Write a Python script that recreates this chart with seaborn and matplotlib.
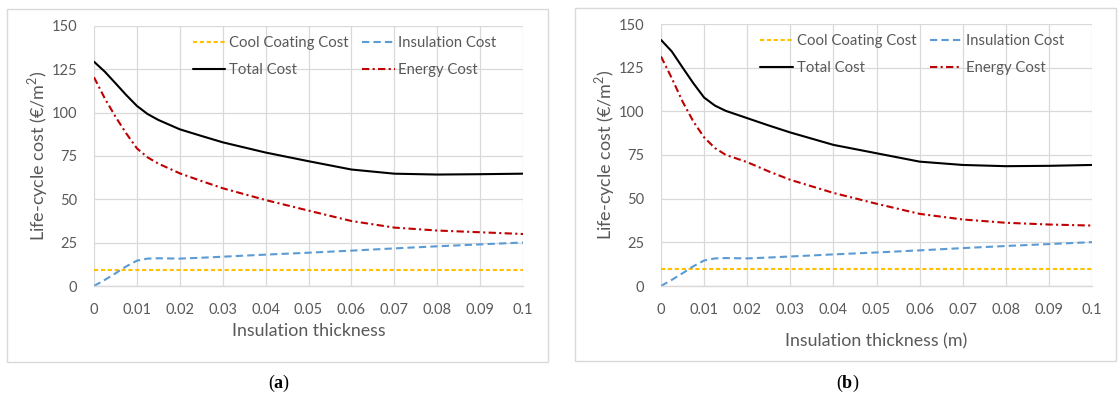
import matplotlib
matplotlib.use("Agg")
import matplotlib.pyplot as plt
import seaborn as sns
import pandas as pd
from matplotlib.patches import Rectangle

# ---------------- data ----------------
thickness = [0, 0.0025, 0.005, 0.0075, 0.01, 0.0125, 0.015, 0.02, 0.025, 0.03,
             0.04, 0.05, 0.06, 0.07, 0.08, 0.09, 0.1]
coating_cost = [9.5, 9.5, 9.5, 9.5, 9.5, 9.5, 9.5, 9.5, 9.5, 9.5,
                9.5, 9.5, 9.5, 9.5, 9.5, 9.5, 9.5]
insulation_cost = [0, 3.5, 7.3, 11.3, 14.6, 15.8, 16.0, 15.8, 16.3, 16.9,
                   18.1, 19.2, 20.4, 21.7, 22.9, 24.0, 25.1]
energy_a = [120.4, 108.3, 97.7, 88.1, 79.4, 74.2, 70.6, 65.0, 60.6, 56.4,
            49.6, 43.5, 37.5, 33.7, 32.0, 31.0, 30.0]
total_a = [129.4, 123.7, 117.0, 110.2, 103.9, 99.2, 95.8, 90.4, 86.6, 82.9,
           77.0, 72.0, 67.2, 64.8, 64.3, 64.5, 64.8]
energy_b = [131.4, 119.0, 105.6, 94.2, 85.1, 79.0, 75.1, 70.9, 65.6, 60.8,
            53.3, 47.1, 41.3, 38.1, 36.2, 35.2, 34.6]
total_b = [140.9, 134.3, 125.1, 116.1, 107.9, 103.3, 100.3, 96.1, 91.9, 87.9,
           80.8, 76.0, 71.2, 69.3, 68.6, 68.8, 69.3]

x_ticks = [0, 0.01, 0.02, 0.03, 0.04, 0.05, 0.06, 0.07, 0.08, 0.09, 0.1]
x_tick_labels = ["0", "0.01", "0.02", "0.03", "0.04", "0.05", "0.06", "0.07", "0.08", "0.09", "0.1"]
y_ticks = [0, 25, 50, 75, 100, 125, 150]
ylabel = "Life-cycle cost (€/m$^2$)"
xlabels = ["Insulation thickness", "Insulation thickness (m)"]
panel_labels = [r"($\mathbf{a}$)", r"($\mathbf{b}$)"]

# ---------------- style ----------------
sns.set_style("white")
plt.rcParams["font.family"] = ["Lato", "DejaVu Sans"]
plt.rcParams["mathtext.fontset"] = "custom"
plt.rcParams["mathtext.rm"] = "Lato"
plt.rcParams["mathtext.bf"] = "Liberation Serif:bold"

TXT = "#595959"
GRID = "#D9D9D9"
C_COAT = "#FFC000"
C_INS = "#5B9BD5"
C_TOT = "#000000"
C_EN = "#C00000"

fig = plt.figure(figsize=(11.2, 3.93), dpi=100)
W, H = 1120, 393

def fig_rect(l, t, r, b):
    return [l / W, 1 - b / H, (r - l) / W, (b - t) / H]

# panel boxes
for (l, t, r, b) in [(7, 9, 548, 362), (575, 8, 1116, 361)]:
    fig.patches.append(Rectangle((l / W, 1 - b / H), (r - l) / W, (b - t) / H,
                                 transform=fig.transFigure, fill=False,
                                 edgecolor=GRID, linewidth=1.0))

axes_boxes = [(94, 26, 523, 286), (661, 24, 1092, 286)]
energies = [energy_a, energy_b]
totals = [total_a, total_b]
xlabel_y = [-0.143, -0.179]
panel_x = [279, 848]

for i in range(2):
    ax = fig.add_axes(fig_rect(*axes_boxes[i]))
    df = pd.DataFrame({"x": thickness, "coat": coating_cost, "ins": insulation_cost,
                       "tot": totals[i], "en": energies[i]})
    sns.lineplot(data=df, x="x", y="coat", ax=ax, color=C_COAT, lw=1.5,
                 linestyle=(0, (2.0, 1.3)), label="Cool Coating Cost")
    sns.lineplot(data=df, x="x", y="tot", ax=ax, color=C_TOT, lw=1.5,
                 linestyle="-", label="Total Cost")
    sns.lineplot(data=df, x="x", y="ins", ax=ax, color=C_INS, lw=1.5,
                 linestyle=(0, (3.5, 2.0)), label="Insulation Cost")
    sns.lineplot(data=df, x="x", y="en", ax=ax, color=C_EN, lw=1.5,
                 linestyle=(0, (3.5, 1.6, 1.0, 1.6)), label="Energy Cost")

    ax.set_xlim(0, 0.1)
    ax.set_ylim(0, 150)
    ax.set_xticks(x_ticks)
    ax.set_xticklabels(x_tick_labels)
    ax.set_yticks(y_ticks)
    ax.grid(True, color=GRID, linewidth=0.9)
    ax.set_axisbelow(True)
    for s in ["top", "right", "left"]:
        ax.spines[s].set_visible(False)
    ax.spines["bottom"].set_color(GRID)
    ax.spines["bottom"].set_linewidth(1.0)
    ax.tick_params(axis="y", length=0, pad=12, labelsize=10.5, labelcolor=TXT)
    if i == 1:
        ax.tick_params(axis="x", length=4, color=GRID, pad=8, labelsize=10.5, labelcolor=TXT)
    else:
        ax.tick_params(axis="x", length=0, pad=12, labelsize=10.5, labelcolor=TXT)

    ax.set_ylabel(ylabel, fontsize=13, color=TXT)
    ax.yaxis.set_label_coords(-0.103, 0.5)
    ax.set_xlabel(xlabels[i], fontsize=12.8, color=TXT)
    ax.xaxis.set_label_coords(0.5, xlabel_y[i])

    leg = ax.legend(loc="upper left", bbox_to_anchor=(0.23, 0.96), ncol=2,
                    frameon=False, fontsize=10.7, handlelength=2.2,
                    handletextpad=0.25, columnspacing=0.9, labelspacing=0.85,
                    borderpad=0, borderaxespad=0)
    for t in leg.get_texts():
        t.set_color(TXT)

    fig.text(panel_x[i] / W, 1 - 383 / H, panel_labels[i], ha="center", va="center",
             fontsize=13, family="Liberation Serif", color="#000000")

fig.savefig("out.png", dpi=100)
